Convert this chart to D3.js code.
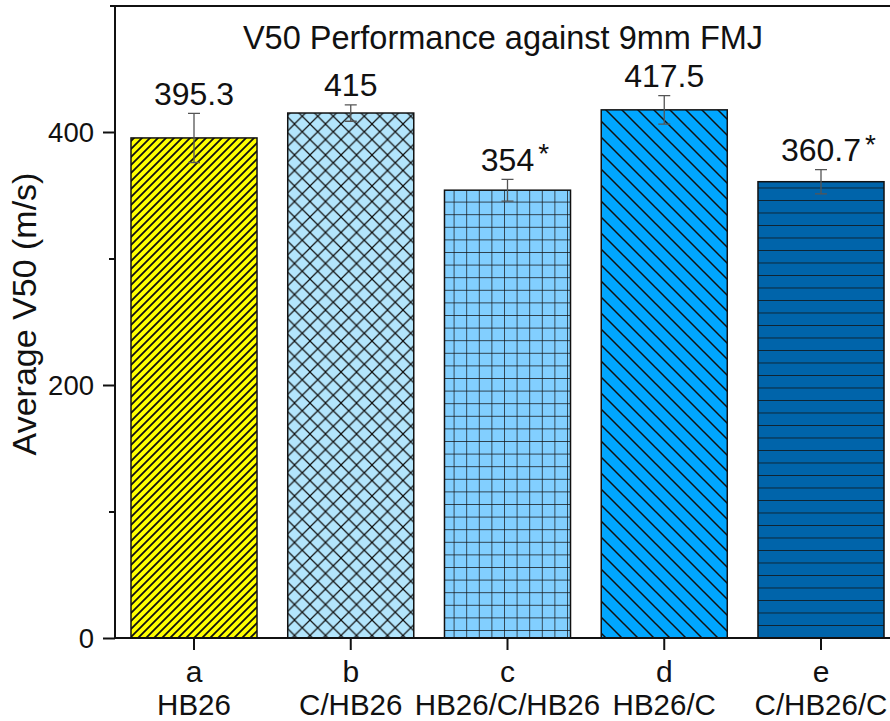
<!DOCTYPE html>
<html><head><meta charset="utf-8">
<script src="https://cdn.jsdelivr.net/npm/d3@7/dist/d3.min.js"></script>
<style>body{margin:0;background:#fff;overflow:hidden}svg{display:block}text{font-family:"Liberation Sans",Arial,sans-serif;fill:#111}</style>
</head><body><svg id="c" width="890" height="721"></svg>
<script>
const categories = ["a","b","c","d","e"];
const materials = ["HB26","C/HB26","HB26/C/HB26","HB26/C","C/HB26/C"];
const values = [395.3, 415, 354, 417.5, 360.7];
const errors = [19.4, 6.5, 8.6, 11.2, 9.6];
const significant = [false, false, true, false, true];
const yTicks = [0, 200, 400];
const yMinorTicks = [100, 300];
const fills = ["#ffff00","#b3e5fc","#82cfff","#00a6ff","#0064aa"];
const patterns = ["diagUp","cross","grid","diagDown","horiz"];

const svg = d3.select("#c");
const x = d3.scaleBand().domain(categories).range([115, 900]).paddingInner(0.196).paddingOuter(0.102);
const y = d3.scaleLinear().domain([0, 500]).range([638, 5.5]);

// patterns
const defs = svg.append("defs");
function pat(id, fill, size, draw){
  const p = defs.append("pattern").attr("id", id).attr("patternUnits","userSpaceOnUse")
    .attr("width", size).attr("height", size);
  p.append("rect").attr("width", size).attr("height", size).attr("fill", fill);
  draw(p, size);
}
const ls = (p) => p.append("path").attr("fill","none").attr("stroke","#111");
pat("diagUp", fills[0], 8, (p,s)=>ls(p).attr("stroke-width",1.8).attr("d",`M0,${s} L${s},0 M-2,2 L2,-2 M${s-2},${s+2} L${s+2},${s-2}`));
pat("cross", fills[1], 15.5, (p,s)=>ls(p).attr("stroke-width",1.2).attr("d",`M0,0 L${s},${s} M0,${s} L${s},0`));
pat("grid", fills[2], 12.6, (p,s)=>ls(p).attr("stroke-width",1.4).attr("d",`M0,0 L0,${s} M0,0 L${s},0`));
pat("diagDown", fills[3], 16, (p,s)=>ls(p).attr("stroke-width",1.5).attr("d",`M0,0 L${s},${s} M-2,${s-2} L2,${s+2} M${s-2},-2 L${s+2},2`));
pat("horiz", fills[4], 12.5, (p,s)=>ls(p).attr("stroke-width",1.5).attr("d",`M0,0 L${s},0`));

const data = categories.map((c,i)=>({c, m:materials[i], v:values[i], e:errors[i], s:significant[i], p:patterns[i]}));

// bars
svg.selectAll("rect.bar").data(data).join("rect").attr("class","bar")
  .attr("x", d=>x(d.c)).attr("width", x.bandwidth())
  .attr("y", d=>y(d.v)).attr("height", d=>y(0)-y(d.v))
  .attr("fill", d=>`url(#${d.p})`).attr("stroke","#111").attr("stroke-width",1.5);

// error bars
const eb = svg.append("g").attr("stroke","#555").attr("stroke-width",1.3).attr("fill","none");
data.forEach(d=>{
  const cx = x(d.c)+x.bandwidth()/2;
  eb.append("path").attr("d",`M${cx},${y(d.v+d.e)} L${cx},${y(d.v-d.e)} M${cx-6},${y(d.v+d.e)} L${cx+6},${y(d.v+d.e)} M${cx-6},${y(d.v-d.e)} L${cx+6},${y(d.v-d.e)}`);
});

// value labels
data.forEach(d=>{
  const cx = x(d.c)+x.bandwidth()/2;
  const t = svg.append("text").attr("x", cx).attr("y", y(d.v+d.e)-8.5).attr("text-anchor","middle")
    .style("font-size","32px").text(d.v);
  if(d.s){
    const w = t.node().getComputedTextLength();
    svg.append("text").attr("x", cx + w/2 + 4).attr("y", y(d.v+d.e)-16).style("font-size","28px").text("*");
  }
});

// axes
const yAxis = d3.axisLeft(y).tickValues(yTicks).tickSize(12).tickPadding(9).tickFormat(d3.format("d"));
const gy = svg.append("g").attr("transform","translate(115,0)").call(yAxis);
gy.select(".domain").remove();
gy.selectAll(".tick line").attr("stroke","#111").attr("stroke-width",2);
gy.selectAll(".tick text").style("font-size","27.5px").attr("fill","#111").attr("dy","0.35em");
const gym = svg.append("g").attr("transform","translate(115,0)").call(d3.axisLeft(y).tickValues(yMinorTicks).tickSize(6).tickFormat(""));
gym.select(".domain").remove();
gym.selectAll(".tick line").attr("stroke","#111").attr("stroke-width",2);

const xAxis = d3.axisBottom(x).tickSize(12).tickSizeOuter(0).tickFormat("");
const gx = svg.append("g").attr("transform","translate(0,638)").call(xAxis);
gx.select(".domain").remove();
gx.selectAll(".tick line").attr("stroke","#111").attr("stroke-width",2);
gx.selectAll(".tick").each(function(c,i){
  const g = d3.select(this);
  g.append("text").attr("y", 44).attr("text-anchor","middle").style("font-size","30px").attr("fill","#111").text(c);
  g.append("text").attr("y", 77).attr("text-anchor","middle").style("font-size","29.5px").attr("fill","#111").text(materials[i]);
});

// frame lines
svg.append("line").attr("x1",115).attr("x2",115).attr("y1",5).attr("y2",639).attr("stroke","#111").attr("stroke-width",2);
svg.append("line").attr("x1",114).attr("x2",890).attr("y1",638).attr("y2",638).attr("stroke","#111").attr("stroke-width",2);
svg.append("line").attr("x1",110).attr("x2",890).attr("y1",6).attr("y2",6).attr("stroke","#111").attr("stroke-width",2.2);

// titles
svg.append("text").attr("x",503).attr("y",49).attr("text-anchor","middle").style("font-size","32.5px").text("V50 Performance against 9mm FMJ");
svg.append("text").attr("transform","translate(36,314) rotate(-90)").attr("text-anchor","middle").style("font-size","34px").text("Average V50 (m/s)");
</script></body></html>
